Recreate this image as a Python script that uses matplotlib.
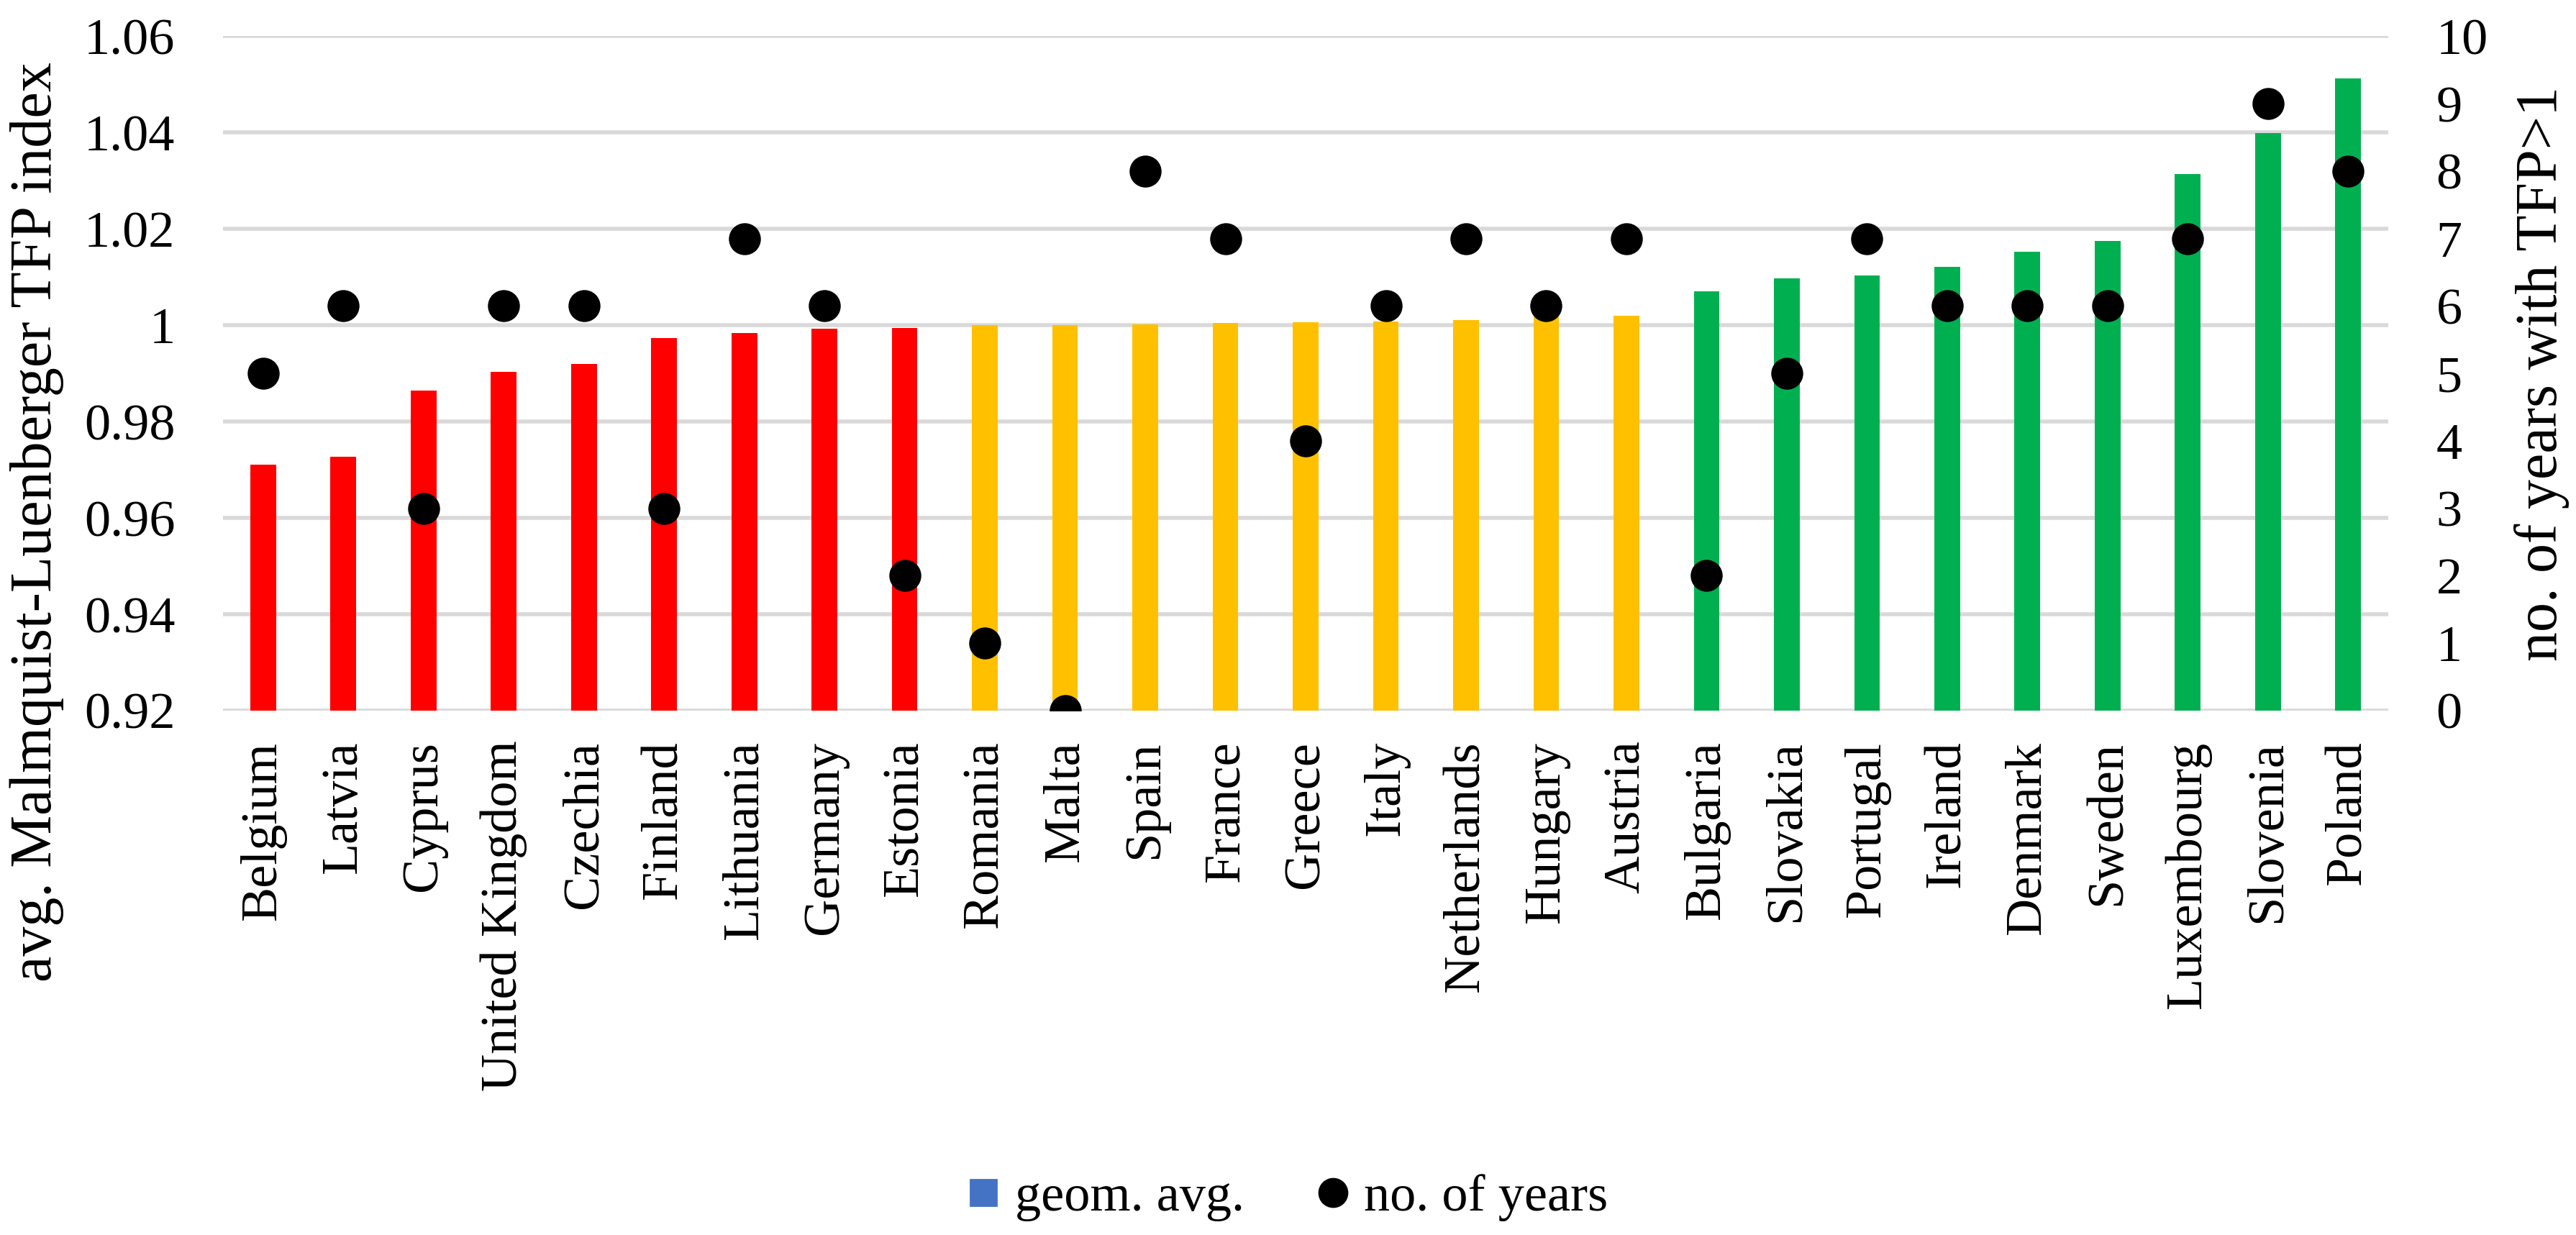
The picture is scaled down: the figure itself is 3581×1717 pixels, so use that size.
import matplotlib
matplotlib.use("Agg")
import matplotlib.pyplot as plt
from matplotlib.lines import Line2D

countries = ["Belgium", "Latvia", "Cyprus", "United Kingdom", "Czechia", "Finland",
             "Lithuania", "Germany", "Estonia", "Romania", "Malta", "Spain", "France",
             "Greece", "Italy", "Netherlands", "Hungary", "Austria", "Bulgaria",
             "Slovakia", "Portugal", "Ireland", "Denmark", "Sweden", "Luxembourg",
             "Slovenia", "Poland"]
tfp_index = [0.9710, 0.9727, 0.9865, 0.9904, 0.9920, 0.9974, 0.9984, 0.9993, 0.9995,
             1.0000, 1.0000, 1.0002, 1.0005, 1.0006, 1.0008, 1.0011, 1.0018, 1.0020,
             1.0071, 1.0097, 1.0104, 1.0121, 1.0152, 1.0175, 1.0314, 1.0399, 1.0513]
years_tfp_gt1 = [5, 6, 3, 6, 6, 3, 7, 6, 2, 1, 0, 8, 7, 4, 6, 7, 6, 7, 2, 5, 7, 6, 6, 6, 7, 9, 8]
groups = ["red"] * 9 + ["yellow"] * 9 + ["green"] * 9
group_colors = {"red": "#FF0000", "yellow": "#FFC000", "green": "#00B050"}
left_ticks = [0.92, 0.94, 0.96, 0.98, 1.00, 1.02, 1.04, 1.06]
left_tick_labels = ["0.92", "0.94", "0.96", "0.98", "1", "1.02", "1.04", "1.06"]
right_ticks = list(range(0, 11))

plt.rcParams["font.family"] = ["Liberation Serif", "DejaVu Serif"]

fig = plt.figure(figsize=(17.905, 8.585), dpi=200)
ax = fig.add_axes([0.0866, 0.4246, 0.9271 - 0.0866, 0.9706 - 0.4246])
ax2 = ax.twinx()

x = list(range(len(countries)))
colors = [group_colors[g] for g in groups]

for y in left_ticks:
    ax.axhline(y, color="#D9D9D9", lw=2.0, zorder=0)

ax.bar(x, [v - 0.92 for v in tfp_index], bottom=0.92, width=0.32, color=colors, zorder=2)
ax.set_ylim(0.92, 1.06)
ax.set_xlim(-0.5, len(countries) - 0.5)
ax.set_yticks(left_ticks)
ax.set_yticklabels(left_tick_labels)
ax.set_xticks(x)
ax.set_xticklabels(countries, rotation=90)
ax.tick_params(axis="y", length=0, pad=24, labelsize=26)
ax.tick_params(axis="x", length=0, pad=15, labelsize=26)
ax.set_ylabel("avg. Malmquist-Luenberger TFP index", fontsize=29.5)
ax.yaxis.set_label_coords(-0.0735, 0.28)

ax2.plot(x, years_tfp_gt1, "o", color="black", markersize=15, zorder=3)
ax2.set_ylim(0, 10)
ax2.set_yticks(right_ticks)
ax2.tick_params(axis="y", length=0, pad=24, labelsize=26)
ax2.set_ylabel("no. of years with TFP>1", fontsize=29.5, rotation=90)
ax2.yaxis.set_label_coords(1.058, 0.5)

for a in (ax, ax2):
    for s in a.spines.values():
        s.set_visible(False)

handles = [
    Line2D([], [], marker="s", linestyle="none", color="#4472C4", markersize=13),
    Line2D([], [], marker="o", linestyle="none", color="black", markersize=14),
]
fig.legend(handles, ["geom. avg.", "no. of years"], loc="center",
           bbox_to_anchor=(0.5, 0.03), ncol=2, frameon=False, fontsize=26,
           handlelength=0.6, handletextpad=0.3, columnspacing=1.4)

fig.savefig("out.png", dpi=200)
